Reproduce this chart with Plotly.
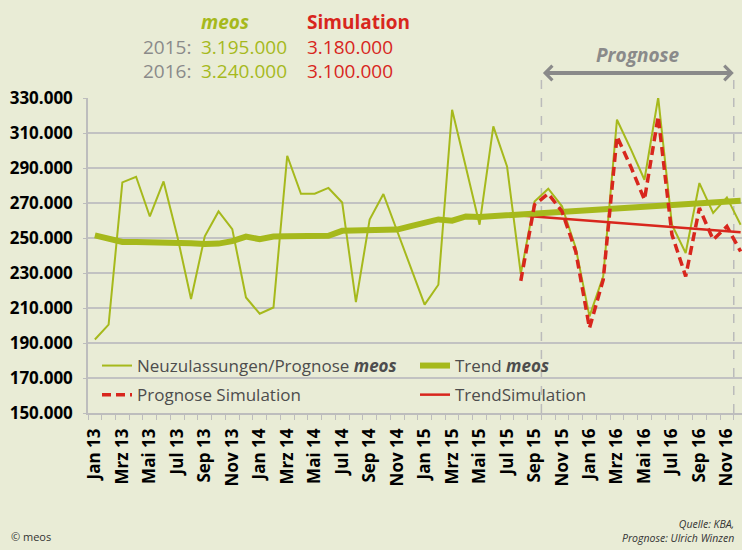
import plotly.graph_objects as go

months = ["Jan", "Feb", "Mrz", "Apr", "Mai", "Jun", "Jul", "Aug", "Sep", "Okt", "Nov", "Dez"]
years = ["13", "14", "15", "16"]
categories = [f"{m} {y}" for y in years for m in months]
tick_labels = [c if i % 2 == 0 else "" for i, c in enumerate(categories)]

neuzulassungen_meos = [
    192000, 200500, 281800, 285000, 262300, 282300, 251000, 215100, 251000, 265200, 255100, 216000,
    206700, 210300, 297000, 275300, 275300, 278600, 270300, 213400, 260500, 275100, 254000, 233000,
    211900, 223300, 323300, 290600, 257600, 313800, 290900, 229500, 270900, 278200, 268100, 244300,
    205200, 228100, 317600, 300900, 283300, 330300, 257600, 241400, 281400, 264300, 273200, 257600,
]
trend_meos = [
    251500, 249200, 247700, 247700, 247700, 247600, 247300, 247000, 246600, 246800, 248200, 250800,
    249300, 250800, 251000, 251100, 251200, 251300, 254100, 254100, 254300, 254600, 254800, 256800,
    258600, 260600, 259900, 262300, 262000, 262500, 262900, 263200, 263700, 264200, 264700, 265200,
    265700, 266200, 266700, 267200, 267800, 268300, 268800, 269300, 269800, 270300, 270800, 271300,
]
prognose_simulation = [None] * 31 + [
    225500, 269000, 275300, 265200, 242300,
    198600, 226200, 308100, 290900, 271900, 319500, 252000, 228100, 267100, 249000, 256600, 242300,
]
trend_simulation = [None] * 31 + [
    262800, 262200, 261600, 261000, 260400,
    259800, 259200, 258600, 258000, 257500, 256900, 256300, 255700, 255100, 254500, 253900, 253300,
]
y_ticks = [150000, 170000, 190000, 210000, 230000, 250000, 270000, 290000, 310000, 330000]
prognose_bounds = [32.5, 46.5]

header_years = ["2015:", "2016:"]
total_meos = ["3.195.000", "3.240.000"]
total_simulation = ["3.180.000", "3.100.000"]

GREEN = "#A6B91C"
RED = "#D8261D"
GRAY = "#8A8A8A"
BG = "#E9ECD6"
FONT = "Open Sans"

W, H = 742, 550
L, R, T, B = 88, 0, 98, 137
PW, PH = W - L - R, H - T - B


def px(x):
    return (x - L) / PW


def py(y):
    return (H - B - y) / PH


fig = go.Figure()
fig.add_trace(go.Scatter(
    x=categories, y=neuzulassungen_meos, mode="lines",
    name="Neuzulassungen/Prognose <b><i>meos</i></b>",
    line=dict(color=GREEN, width=2), legend="legend", legendgroup="a", legendrank=1, cliponaxis=False,
))
fig.add_trace(go.Scatter(
    x=categories, y=trend_simulation, mode="lines", name="TrendSimulation",
    line=dict(color=RED, width=2.5), legend="legend2", legendgroup="d", legendrank=2, cliponaxis=False,
))
fig.add_trace(go.Scatter(
    x=categories, y=trend_meos, mode="lines", name="Trend <b><i>meos</i></b>",
    line=dict(color=GREEN, width=6), legend="legend2", legendgroup="c", legendrank=1, cliponaxis=False,
))
fig.add_trace(go.Scatter(
    x=categories, y=prognose_simulation, mode="lines", name="Prognose Simulation",
    line=dict(color=RED, width=3.5, dash="9px,5px"), legend="legend", legendgroup="b", legendrank=2,
    cliponaxis=False,
))

legend_common = dict(
    bgcolor="rgba(0,0,0,0)", font=dict(family=FONT, size=17, color="#4D4D4D"),
    yanchor="top", xanchor="left", traceorder="grouped", tracegroupgap=4,
)
fig.update_layout(
    width=W, height=H,
    margin=dict(l=L, r=R, t=T, b=B),
    paper_bgcolor=BG, plot_bgcolor=BG,
    separators=",.",
    showlegend=True,
    legend=dict(x=px(97), y=py(348), **legend_common),
    legend2=dict(x=px(415), y=py(348), **legend_common),
    xaxis=dict(
        type="category", range=[-0.5, 47.1],
        tickmode="array", tickvals=categories, ticktext=tick_labels,
        tickangle=-90, tickson="boundaries", ticks="outside", ticklen=5,
        tickcolor="#BDBDBD", showline=True, linecolor="#BDBDBD", linewidth=1.5,
        showgrid=False, ticklabelstandoff=7,
        tickfont=dict(family=FONT, size=17, color="black", weight="bold"),
    ),
    yaxis=dict(
        range=[150000, 330000], tickmode="array", tickvals=y_ticks, tickformat=",d",
        showgrid=True, gridcolor="#C2C2C2", gridwidth=1.5, zeroline=False,
        showline=True, linecolor="#BDBDBD", linewidth=1.5,
        ticks="outside", ticklen=3, tickcolor="#BDBDBD", ticklabelstandoff=7,
        tickfont=dict(family=FONT, size=17, color="black", weight="bold"),
    ),
)

# Prognose boundaries
for xb in prognose_bounds:
    fig.add_shape(type="line", xref="x", yref="paper", x0=xb, x1=xb, y0=0, y1=py(75),
                  line=dict(color="#BBBBBB", width=1.5, dash="dash"), layer="below")

fig.add_annotation(
    x=prognose_bounds[1], y=py(73), xref="x", yref="paper",
    ax=prognose_bounds[0], ay=0, axref="x", ayref="pixel",
    text="", showarrow=True, arrowside="end+start", arrowhead=4, arrowsize=0.7,
    arrowwidth=4, arrowcolor=GRAY,
)
fig.add_annotation(
    x=(prognose_bounds[0] + prognose_bounds[1]) / 2, y=py(55), xref="x", yref="paper",
    text="<b><i>Prognose</i></b>", showarrow=False,
    font=dict(family=FONT, size=19, color=GRAY), xanchor="center", yanchor="middle",
)

# Header table (one text block per column)
columns = [
    ("&nbsp;<br>" + "<br>".join(header_years), 141, GRAY),
    ("<b><i>meos</i></b><br>" + "<br>".join(total_meos), 199, GREEN),
    ("<b>Simulation</b><br>" + "<br>".join(total_simulation), 305, RED),
]
for txt, x, c in columns:
    fig.add_annotation(x=px(x), y=py(7), xref="paper", yref="paper", text=txt,
                       showarrow=False, xanchor="left", yanchor="top", align="left",
                       font=dict(family=FONT, size=19, color=c))

# Footer
fig.add_annotation(x=px(9), y=py(536), xref="paper", yref="paper", text="© meos",
                   showarrow=False, xanchor="left", yanchor="middle",
                   font=dict(family=FONT, size=11, color="#333333"))
fig.add_annotation(x=px(736), y=py(531), xref="paper", yref="paper",
                   text="<i>Quelle: KBA,</i><br><i>Prognose: Ulrich Winzen</i>",
                   showarrow=False, xanchor="right", yanchor="middle", align="right",
                   font=dict(family=FONT, size=10.5, color="#333333"))

fig.write_html("out.html", config={"displayModeBar": False},
               post_script="document.body.style.margin='0px';")
